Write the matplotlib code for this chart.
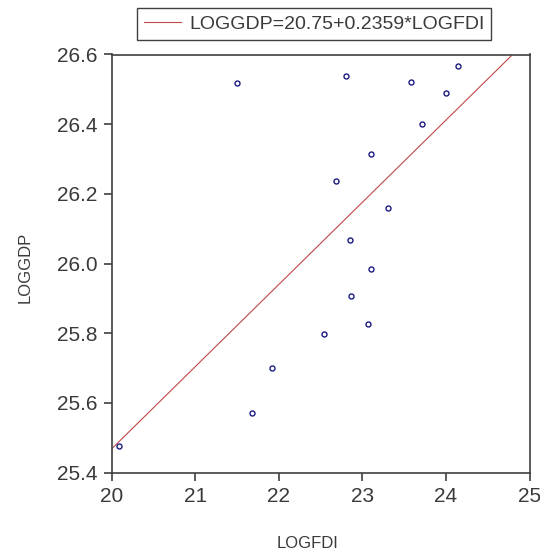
import matplotlib
matplotlib.use("Agg")
import matplotlib.pyplot as plt
import numpy as np

plt.rcParams['font.family'] = ['Liberation Sans', 'DejaVu Sans']

# data
logfdi = [21.50, 22.80, 23.58, 24.14, 24.00, 23.72, 23.10, 22.69, 23.31,
          22.85, 23.10, 22.87, 23.07, 22.54, 21.92, 21.68, 20.09]
loggdp = [26.519, 26.538, 26.522, 26.567, 26.489, 26.400, 26.314, 26.237, 26.160,
          26.067, 25.985, 25.908, 25.826, 25.799, 25.701, 25.570, 25.477]
intercept = 20.75
slope = 0.2359
xticks = [20, 21, 22, 23, 24, 25]
yticks = [25.4, 25.6, 25.8, 26.0, 26.2, 26.4, 26.6]

W, H = 540, 554
fig = plt.figure(figsize=(W / 100, H / 100), dpi=100)
ax = fig.add_axes([111.5 / W, 1 - 472.7 / H, 418 / W, 418.2 / H])

axcol = '#404040'
txtcol = '#3a3a3a'

xl = np.array([20, 25])
ax.plot(xl, intercept + slope * xl, color='#c04848', lw=0.8,
        label='LOGGDP=20.75+0.2359*LOGFDI')
ax.plot(logfdi, loggdp, 'o', ms=3.6, mfc='none', mec='#1a1a80', mew=1.0)

ax.set_xlim(20, 25)
ax.set_ylim(25.4, 26.6)
ax.set_xticks(xticks)
ax.set_yticks(yticks)
ax.set_xticklabels([str(v) for v in xticks])
ax.set_yticklabels(['%.1f' % v for v in yticks])
for s in ax.spines.values():
    s.set_color(axcol)
    s.set_linewidth(1.2)
ax.tick_params(direction='out', length=6, width=1.2, color=axcol,
               labelsize=15, labelcolor=txtcol, pad=4)

ax.set_xlabel('LOGFDI', fontsize=12, color=txtcol)
ax.set_ylabel('LOGGDP', fontsize=12, color=txtcol)
ax.xaxis.label.set_va('center')
ax.yaxis.label.set_va('center')
ax.xaxis.set_label_coords(0.47, (472.7 - 543) / 418.2)
ax.yaxis.set_label_coords((25 - 111.5) / 418, 0.49)

leg = fig.legend(loc='upper left', bbox_to_anchor=(136.7 / W, 1 - 8.3 / H),
                 borderaxespad=0, fontsize=14, fancybox=False, framealpha=1,
                 edgecolor=axcol, borderpad=0.35, handlelength=1.95,
                 handletextpad=0.4)
leg.get_frame().set_linewidth(1.0)
for t in leg.get_texts():
    t.set_color(txtcol)

fig.savefig('out.png', dpi=100)
